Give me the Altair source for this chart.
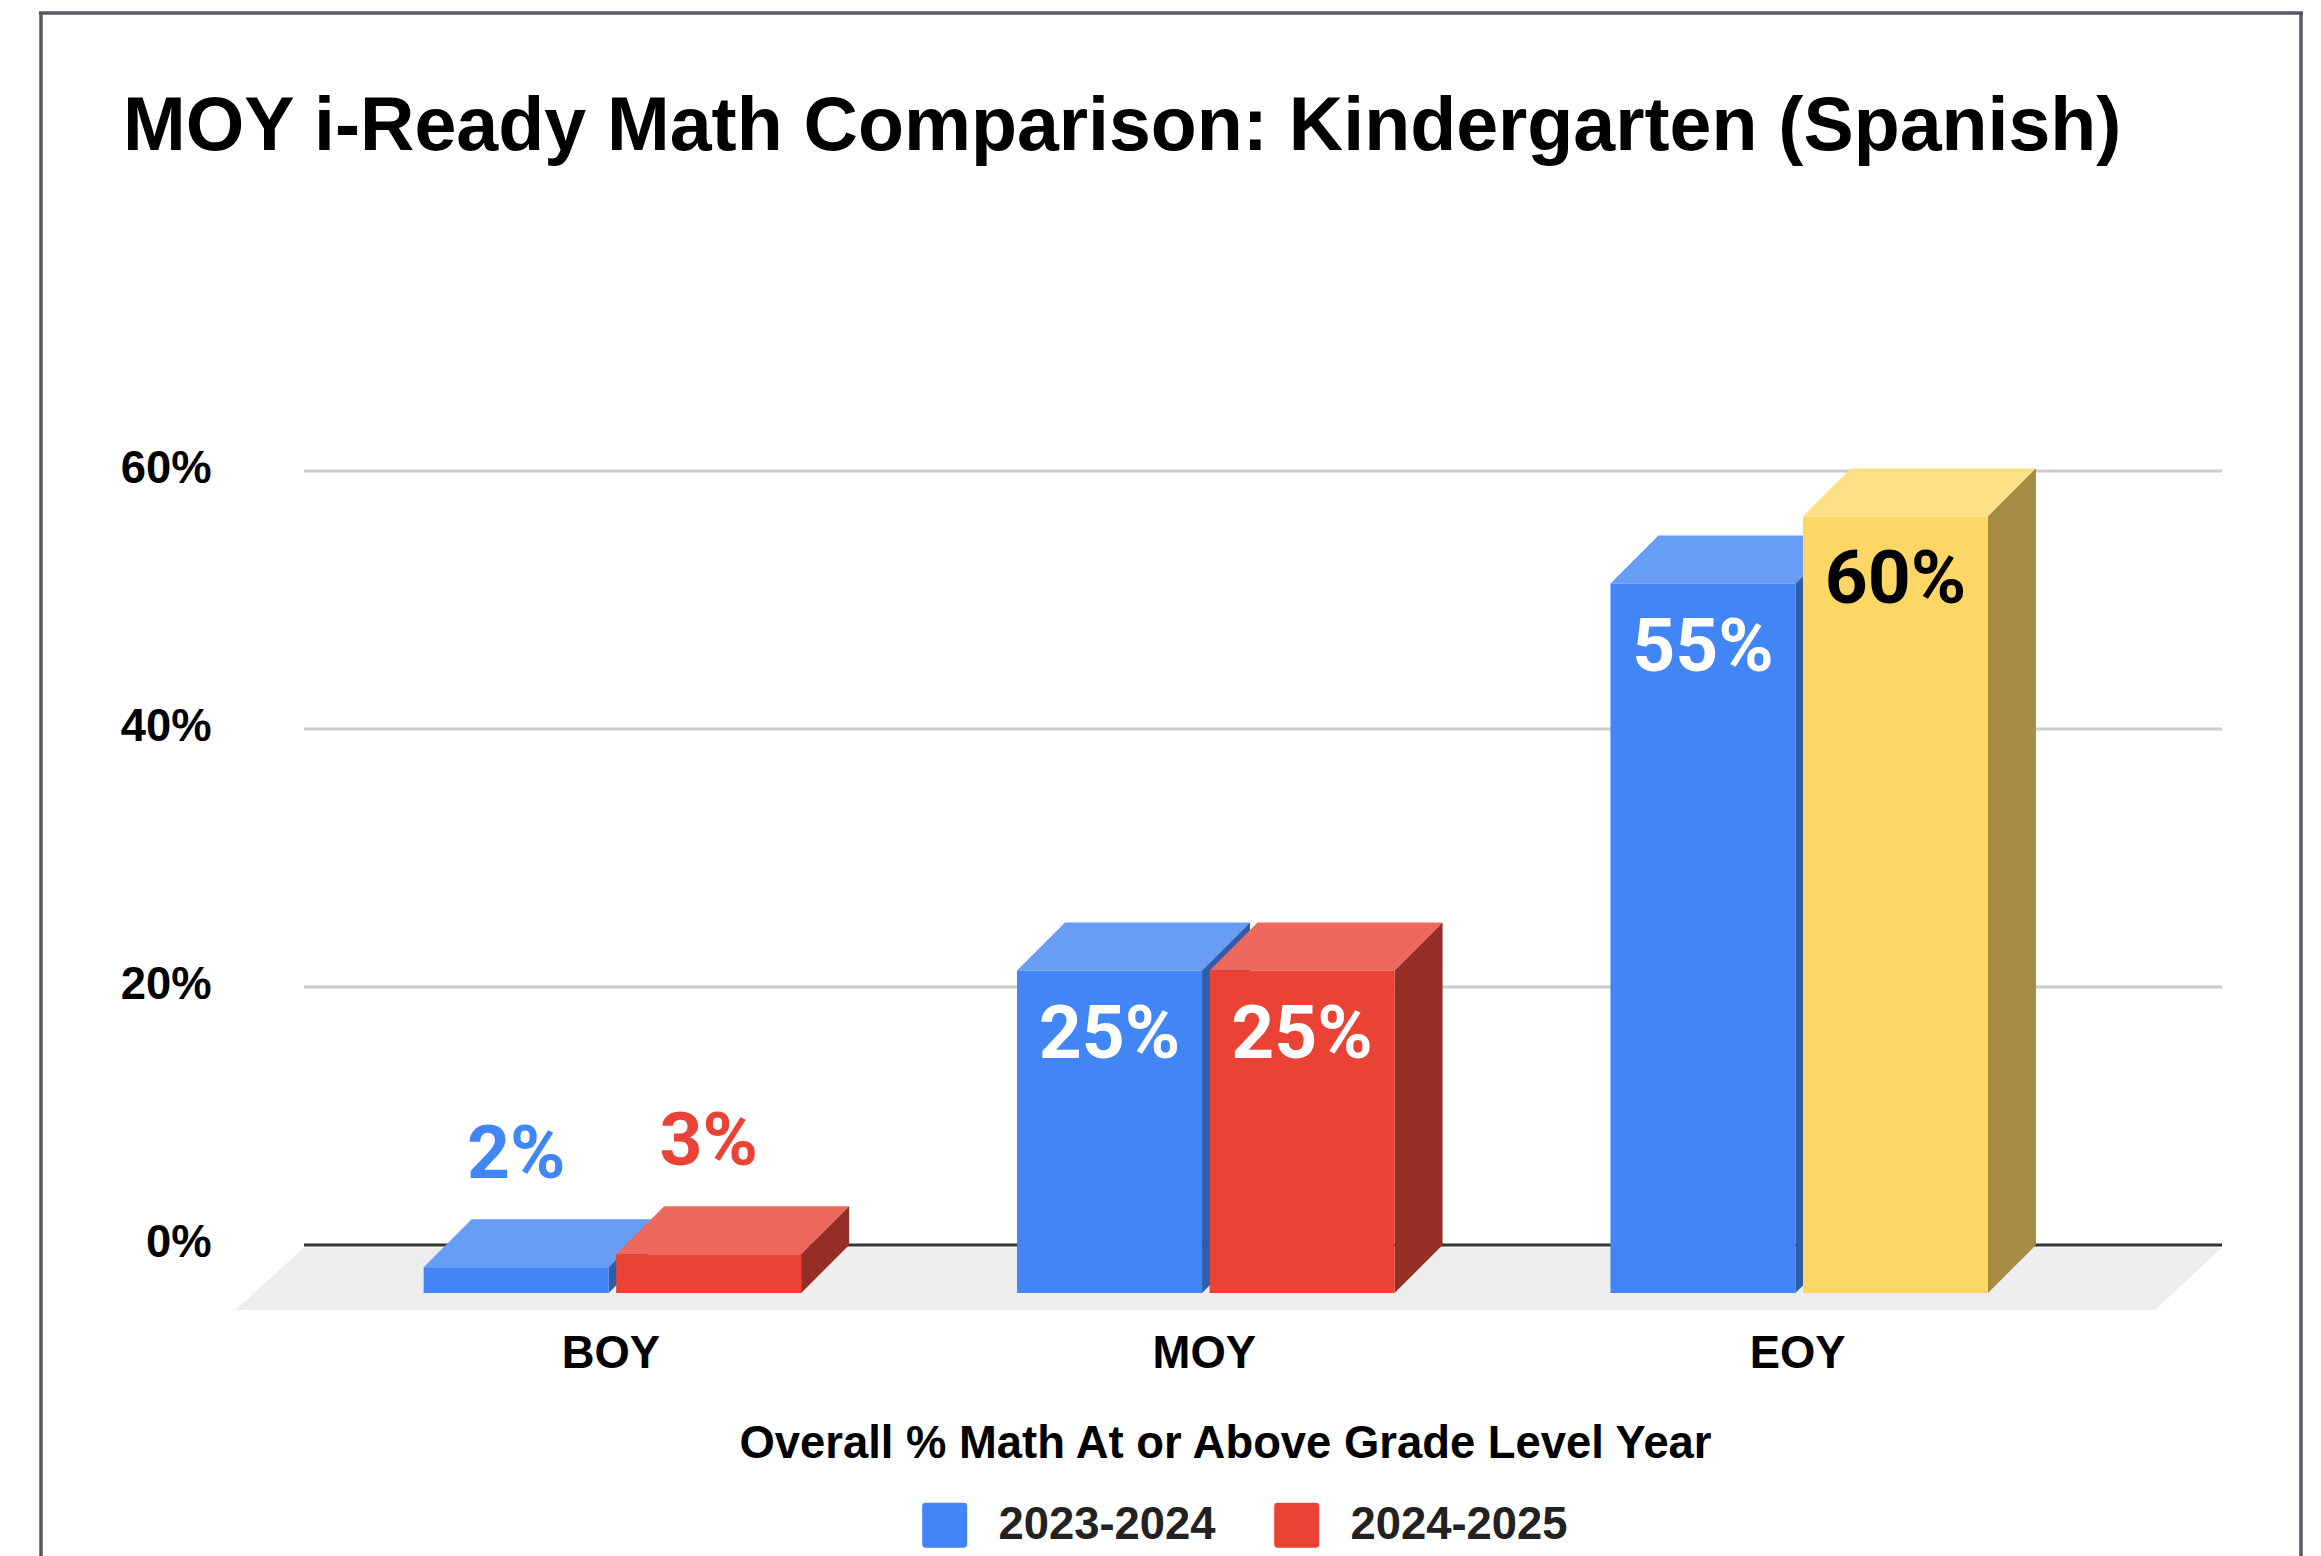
import altair as alt
import pandas as pd

# ---- values
TITLE = "MOY i-Ready Math Comparison: Kindergarten (Spanish)"
X_TITLE = "Overall % Math At or Above Grade Level Year"
CATEGORIES = ["BOY", "MOY", "EOY"]
SERIES = ["2023-2024", "2024-2025"]
VALUES_2324 = [0.02, 0.25, 0.55]
VALUES_2425 = [0.03, 0.25, 0.602]
Y_TICKS = [0, 0.2, 0.4, 0.6]

# ---- colours
BLUE = ("#4285F4", "#689DF6", "#2E5DAB")
RED = ("#EA4335", "#EE695D", "#952E25")
YELLOW = ("#FDD766", "#FEE086", "#A68C43")

# ---- geometry of the canvas (px) and the two scales
W, H = 2305, 1548
PAGE = 8
CAT0, CAT_STEP = 612.4, 593.4
ZERO_Y, PER_UNIT = 1245.0, 1290.0


def xv(page_px):
    return (page_px - CAT0) / CAT_STEP


def yv(page_px):
    return (ZERO_Y - page_px) / PER_UNIT


X_DOMAIN = [xv(PAGE), xv(PAGE + W)]
Y_DOMAIN = [yv(PAGE + H), yv(PAGE)]
BAR_W = 185 / CAT_STEP
GAP = 7.5 / CAT_STEP
DX = 48 / CAT_STEP
DY = 48 / PER_UNIT
INSIDE = 64 / PER_UNIT
OUTSIDE = 64 / PER_UNIT

front, tops, sides = [], [], []
for s_i, (series, vals) in enumerate(zip(SERIES, [VALUES_2324, VALUES_2425])):
    for c_i, (cat, v) in enumerate(zip(CATEGORIES, vals)):
        hi = s_i == 1 and cat == "EOY"
        pal = YELLOW if hi else (BLUE if s_i == 0 else RED)
        left = c_i - GAP / 2 - BAR_W if s_i == 0 else c_i + GAP / 2
        right = left + BAR_W
        key = f"{series}-{cat}"
        inside = v > 0.1
        front.append({
            "series": series, "cat": cat, "value": v, "l": left, "r": right,
            "base": -DY, "ftop": v - DY, "hi": hi, "mid": (left + right) / 2,
            "label_y": v - DY - INSIDE if inside else v + OUTSIDE,
            "label_color": ("#000000" if hi else "#FFFFFF") if inside else pal[0],
        })
        tops += [
            {"k": key, "py": v - DY, "xa": left, "xb": right, "c": pal[1]},
            {"k": key, "py": v, "xa": left + DX, "xb": right + DX, "c": pal[1]},
        ]
        sides += [
            {"k": key, "px": right, "ya": -DY, "yb": v - DY, "c": pal[2]},
            {"k": key, "px": right + DX, "ya": 0, "yb": v, "c": pal[2]},
        ]

front = pd.DataFrame(front)
tops = pd.DataFrame(tops)
sides = pd.DataFrame(sides)

floor = pd.DataFrame([
    {"py": yv(1247.5), "xa": xv(304), "xb": xv(2222)},
    {"py": yv(1310), "xa": xv(235.5), "xb": xv(2155)},
])
grid = pd.DataFrame({"t": Y_TICKS[1:], "a": xv(304), "b": xv(2222)})
zero = pd.DataFrame({"t": [0], "a": xv(304), "b": xv(2222)})

xs = alt.Scale(domain=X_DOMAIN, nice=False, zero=False)
ys = alt.Scale(domain=Y_DOMAIN, nice=False, zero=False)
BOLD = "Liberation Sans"
cat_expr = "[" + ",".join(f"'{c}'" for c in CATEGORIES) + "][datum.value]"

x_axis = alt.Axis(
    values=[0, 1, 2], labelExpr=cat_expr, orient="bottom", offset=-226,
    domain=False, ticks=False, grid=False, labelFont=BOLD, labelFontWeight="bold",
    labelFontSize=45.4, labelColor="#000000", labelPadding=23, labelOffset=-2,
    labelBaseline="middle", labelFlush=False, labelOverlap=False,
    title=X_TITLE, titleFont=BOLD, titleFontWeight="bold", titleFontSize=45.4,
    titleColor="#000000", titleX=1217, titleY=113, titleBaseline="middle", titleAlign="center",
)
y_axis = alt.Axis(
    values=Y_TICKS, format=".0%", orient="left", offset=-203, domain=False, ticks=False,
    grid=False, labelFont=BOLD, labelFontWeight="bold", labelFontSize=45.4,
    labelColor="#000000", labelPadding=0, labelOffset=-3, labelAlign="right",
    labelBaseline="middle", labelFlush=False, labelOverlap=False, title=None,
)

floor_l = alt.Chart(floor).mark_area(orient="horizontal", color="#EDEDED").encode(
    y=alt.Y("py:Q", scale=ys, axis=y_axis),
    x=alt.X("xa:Q", scale=xs, axis=x_axis),
    x2="xb:Q",
)
grid_l = alt.Chart(grid).mark_rule(color="#CCCCCC", strokeWidth=3).encode(
    y=alt.Y("t:Q", scale=ys),
    x=alt.X("a:Q", scale=xs),
    x2="b:Q",
)
zero_l = alt.Chart(zero).mark_rule(color="#333333", strokeWidth=3).encode(
    y=alt.Y("t:Q", scale=ys),
    x=alt.X("a:Q", scale=xs),
    x2="b:Q",
)

SWATCH = ("M-0.85,-1H0.85Q1,-1,1,-0.85V0.85Q1,1,0.85,1H-0.85Q-1,1,-1,0.85"
          "V-0.85Q-1,-1,-0.85,-1Z")


def bar_layers(series):
    f = front[front.series == series]
    keys = f.series + "-" + f.cat
    t = tops[tops.k.isin(keys)]
    s = sides[sides.k.isin(keys)]
    top_l = alt.Chart(t).mark_area(orient="horizontal").encode(
        y=alt.Y("py:Q", scale=ys),
        x=alt.X("xa:Q", scale=xs),
        x2="xb:Q",
        fill=alt.Fill("c:N", scale=None),
        detail="k:N",
    )
    side_l = alt.Chart(s).mark_area(orient="vertical").encode(
        x=alt.X("px:Q", scale=xs),
        y=alt.Y("ya:Q", scale=ys),
        y2="yb:Q",
        fill=alt.Fill("c:N", scale=None),
        detail="k:N",
    )
    front_l = alt.Chart(f).mark_rect().encode(
        x=alt.X("l:Q", scale=xs),
        x2="r:Q",
        y=alt.Y("base:Q", scale=ys),
        y2="ftop:Q",
        color=alt.condition(
            "datum.hi",
            alt.value(YELLOW[0]),
            alt.Color(
                "series:N",
                scale=alt.Scale(domain=SERIES, range=[BLUE[0], RED[0]]),
                legend=alt.Legend(
                    title=None, orient="none", direction="horizontal",
                    legendX=914, legendY=1494, padding=0, symbolType=SWATCH,
                    symbolSize=2025, symbolStrokeWidth=0, labelFont=BOLD,
                    labelFontWeight="bold", labelFontSize=45.4, labelColor="#222222",
                    labelOffset=31, columnPadding=58, labelLimit=400,
                ),
            ),
        ),
    )
    return [top_l, side_l, front_l]


labels = alt.Chart(front).mark_text(
    font="Roboto", fontWeight="bold", fontSize=75, baseline="middle", align="center"
).encode(
    x=alt.X("mid:Q", scale=xs),
    y=alt.Y("label_y:Q", scale=ys),
    text=alt.Text("value:Q", format=".0%"),
    fill=alt.Fill("label_color:N", scale=None),
)

frame_color = "#555A62"
one = pd.DataFrame({"a": [0]})
frame_l = alt.Chart(one).mark_rule(color=frame_color, strokeWidth=3.5).encode(
    x=alt.value(33), y=alt.value(5), y2=alt.value(H)
)
frame_r = alt.Chart(one).mark_rule(color=frame_color, strokeWidth=3.5).encode(
    x=alt.value(2293), y=alt.value(5), y2=alt.value(H)
)
frame_t = alt.Chart(one).mark_rule(color=frame_color, strokeWidth=3.5).encode(
    y=alt.value(5), x=alt.value(31), x2=alt.value(2295)
)

chart = alt.layer(
    floor_l, grid_l, zero_l,
    *bar_layers(SERIES[0]), *bar_layers(SERIES[1]),
    labels, frame_l, frame_r, frame_t,
).properties(
    width=W, height=H, padding=0, autosize="none",
    title=alt.TitleParams(
        text=TITLE, anchor="start", frame="group", dx=115, dy=194, offset=0,
        baseline="middle", font=BOLD, fontWeight="bold", fontSize=75.3, color="#000000",
    ),
).configure_view(stroke=None)

chart.save("out.html", embed_options={"renderer": "svg", "actions": False})
